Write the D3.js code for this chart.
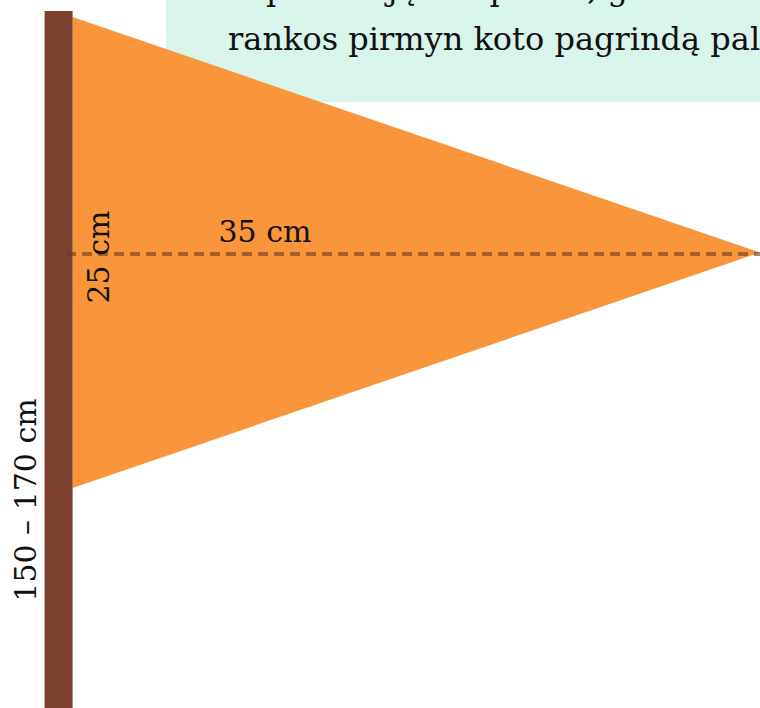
<!DOCTYPE html>
<html>
<head>
<meta charset="utf-8">
<script src="https://cdn.jsdelivr.net/npm/d3@7"></script>
<style>
  html, body { margin: 0; padding: 0; background: #fff; overflow: hidden; }
  svg { display: block; }
</style>
</head>
<body>
<div id="chart"></div>
<script>
// flag dimensions (cm)
const flagLength = [35];
const flagHalfHeight = [25];
const poleHeight = [150, 170];

// labels
const dimLabels = ["35 cm", "25 cm", "150 – 170 cm"];
const noteLines = [
    "Ir pakelti ją ant peties, galite ištiesę",
    "rankos pirmyn koto pagrindą pal"
];

const width = 760, height = 708;

// x: cm along the flag, y: cm from flag centre line
const x = d3.scaleLinear().domain([0, flagLength[0]]).range([72.6, 760]);
const y = d3.scaleLinear().domain([-flagHalfHeight[0], flagHalfHeight[0]]).range([488, 17]);

const svg = d3.select('#chart').append('svg')
    .attr('width', width)
    .attr('height', height)
    .style('font-family', '"DejaVu Serif", serif');

// note box at the top
const note = svg.append('g').classed('note', true);
note.append('rect')
    .attr('x', 166)
    .attr('y', -60)
    .attr('width', 700)
    .attr('height', 162)
    .style('fill', '#d9f4eb');

note.selectAll('text')
    .data(noteLines)
    .enter()
    .append('text')
    .attr('x', 228)
    .attr('y', (d, i) => i * 50)
    .style('font-size', '32px')
    .style('fill', '#111')
    .text(d => d);

// flag triangle
const tri = [
    [0, flagHalfHeight[0]],
    [flagLength[0], 0],
    [0, -flagHalfHeight[0]]
];
svg.append('path')
    .datum(tri)
    .attr('d', d3.line().x(d => x(d[0])).y(d => y(d[1])).curve(d3.curveLinearClosed))
    .style('fill', '#f9953a');

// pole
svg.append('rect')
    .attr('x', 44.6)
    .attr('y', 11)
    .attr('width', 28)
    .attr('height', 720)
    .style('fill', '#7b402e');

// centre dashed line
svg.append('line')
    .attr('x1', 66)
    .attr('x2', x(flagLength[0]))
    .attr('y1', y(0) + 1.5)
    .attr('y2', y(0) + 1.5)
    .style('stroke', '#6e3a22')
    .style('stroke-opacity', 0.6)
    .style('stroke-width', 4)
    .style('stroke-dasharray', '10,6');

// dimension labels
svg.append('text')
    .attr('x', 265)
    .attr('y', 242)
    .attr('text-anchor', 'middle')
    .style('font-size', '30px')
    .style('fill', '#111')
    .text(dimLabels[0]);

svg.append('text')
    .attr('transform', 'translate(109, 257) rotate(-90)')
    .attr('text-anchor', 'middle')
    .style('font-size', '30px')
    .style('fill', '#111')
    .text(dimLabels[1]);

svg.append('text')
    .attr('transform', 'translate(36, 500) rotate(-90)')
    .attr('text-anchor', 'middle')
    .style('font-size', '30px')
    .style('fill', '#111')
    .text(dimLabels[2]);
</script>
</body>
</html>
